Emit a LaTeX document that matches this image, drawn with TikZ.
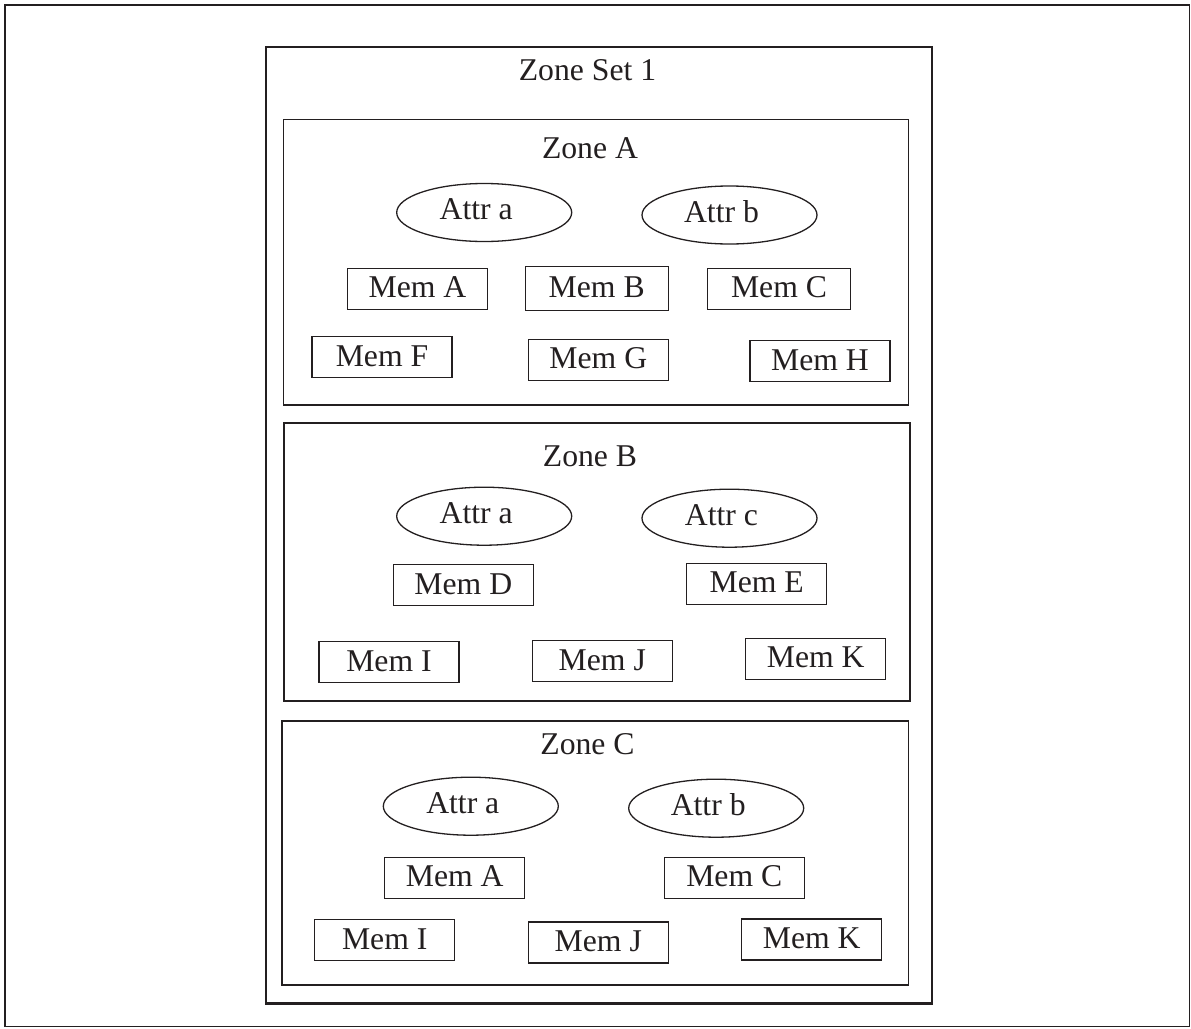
\documentclass[tikz,border=0pt]{standalone}
\usepackage{fontspec}
\setmainfont{Liberation Serif}
\usetikzlibrary{shapes.geometric}
\definecolor{ink}{HTML}{231F20}
\begin{document}
\begin{tikzpicture}[x=1pt,y=-1pt,
  every node/.style={font=\fontsize{31.7}{38}\selectfont, text=ink},
  frame/.style={draw=ink, line width=1.6pt, rectangle, inner sep=0pt},
  setbox/.style={draw=ink, line width=2.8pt, rectangle, inner sep=0pt},
  zonebox/.style={draw=ink, line width=1.6pt, rectangle, inner sep=0pt},
  membox/.style={draw=ink, line width=1.3pt, rectangle, inner sep=0pt,
    minimum width=140pt, minimum height=41pt, text height=21pt, text depth=3pt},
  attr/.style={draw=ink, line width=1.3pt, ellipse, inner sep=0pt,
    minimum width=175pt, minimum height=58pt, text height=21pt, text depth=7pt},
  title/.style={anchor=base, inner sep=0pt}]
\useasboundingbox (0,0) rectangle (1191,1028);
% outer frame and zone set
\node[frame, minimum width=1184.5pt, minimum height=1021.5pt] (outer) at (597.25,515.75) {};
\node[setbox, minimum width=666pt, minimum height=956.5pt] (zset) at (599,525.25) {};
\node[title] (zsettitle) at (587.5,80) {Zone Set 1};
% Zone A
\node[zonebox, minimum width=624.8pt, minimum height=285.7pt] (zA) at (595.9,262.2) {};
\node[title] (zAtitle) at (590,158) {Zone A};
\node[attr] (zAa) at (484.2,212.5) {\hspace*{-16pt}Attr a};
\node[attr] (zAb) at (729.5,215) {\hspace*{-16pt}Attr b};
\node[membox] (zAmA) at (417.5,288.8) {Mem A};
\node[membox, minimum width=143pt, minimum height=44pt] (zAmB) at (596.7,288.7) {Mem B};
\node[membox, minimum width=143pt] (zAmC) at (779,288.7) {Mem C};
\node[membox] (zAmF) at (382,357) {Mem F};
\node[membox] (zAmG) at (598.3,359.7) {Mem G};
\node[membox] (zAmH) at (820,361.3) {Mem H};
% Zone B
\node[zonebox, minimum width=626pt, minimum height=278pt] (zB) at (597,561.7) {};
\node[title] (zBtitle) at (590,466.7) {Zone B};
\node[attr] (zBa) at (484.2,516.2) {\hspace*{-16pt}Attr a};
\node[attr] (zBc) at (729.5,518.2) {\hspace*{-16pt}Attr c};
\node[membox] (zBmD) at (463.3,585.3) {Mem D};
\node[membox] (zBmE) at (756.7,583.7) {Mem E};
\node[membox] (zBmI) at (389,662) {Mem I};
\node[membox] (zBmJ) at (602.3,661.3) {Mem J};
\node[membox] (zBmK) at (815.7,658.7) {Mem K};
% Zone C
\node[zonebox, minimum width=626.6pt, minimum height=264.3pt] (zC) at (595,852.85) {};
\node[title] (zCtitle) at (587.5,754) {Zone C};
\node[attr] (zCa) at (470.8,806.2) {\hspace*{-16pt}Attr a};
\node[attr] (zCb) at (716.2,808.2) {\hspace*{-16pt}Attr b};
\node[membox] (zCmA) at (454.7,877.8) {Mem A};
\node[membox] (zCmC) at (734.3,877.8) {Mem C};
\node[membox] (zCmI) at (384.7,940.3) {Mem I};
\node[membox] (zCmJ) at (598.3,942.5) {Mem J};
\node[membox] (zCmK) at (811.7,939.5) {Mem K};
\end{tikzpicture}
\end{document}
